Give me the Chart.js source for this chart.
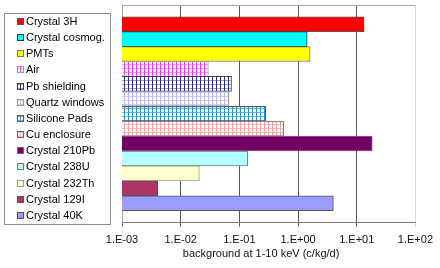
<!DOCTYPE html>
<html>
<head>
<meta charset="utf-8">
<script src="https://cdn.jsdelivr.net/npm/chart.js@4/dist/chart.umd.min.js"></script>
<style>
  html, body { margin: 0; padding: 0; background: #fff; }
  #chart { display: block; }
</style>
</head>
<body>
<canvas id="chart" width="440" height="268"></canvas>
<script>
// background sources, top to bottom
const sources = ['Crystal 3H', 'Crystal cosmog.', 'PMTs', 'Air', 'Pb shielding', 'Quartz windows', 'Silicone Pads',
  'Cu enclosure', 'Crystal 210Pb', 'Crystal 238U', 'Crystal 232Th', 'Crystal 129I', 'Crystal 40K'];
// background at 1-10 keV, c/kg/d
const rates = [13.4, 1.43, 1.61, 0.0296, 0.0735, 0.0661, 0.281, 0.567, 18.4, 0.139, 0.0208, 0.00408, 4.0];
const tickValues = [1e-3, 1e-2, 1e-1, 1, 10, 100];
const tickLabels = ['1.E-03', '1.E-02', '1.E-01', '1.E+00', '1.E+01', '1.E+02'];
const axisTitle = 'background at 1-10 keV (c/kg/d)';

const FONT = '"Liberation Sans", Arial, sans-serif';

// small grid hatch, like the excel fill patterns
function hatch(vLine, hLine, step) {
  const cv = document.createElement('canvas');
  cv.width = step; cv.height = step;
  const g = cv.getContext('2d');
  g.fillStyle = '#fff';
  g.fillRect(0, 0, step, step);
  g.fillStyle = hLine;
  g.fillRect(0, 0, step, 1);
  g.fillStyle = vLine;
  g.fillRect(0, 0, 1, step);
  return g.createPattern(cv, 'repeat');
}

const fills = [
  '#ff0000', '#00ffff', '#ffff00',
  hatch('#ff33ff', '#ff99ff', 4),
  hatch('#2a2a8c', '#9c9cc8', 4),
  hatch('#b8b8f4', '#cfcffa', 4),
  hatch('#1f8fe0', '#70b4ec', 4),
  hatch('#ff9c9c', '#ffb8b8', 4),
  '#730063', '#b3ffff', '#ffffcc', '#b03366', '#9c9cff'
];
const edges = ['#555', '#333', '#777', '#999', '#444', '#999', '#555', '#666', '#a05098', '#777', '#999', '#555', '#555'];

const frame = {
  id: 'frame',
  beforeDatasetsDraw(chart) {
    const { ctx, chartArea: a } = chart;
    ctx.save();
    ctx.strokeStyle = '#a6a6a6';
    ctx.lineWidth = 1;
    ctx.beginPath();
    ctx.moveTo(a.left + 0.5, a.bottom);
    ctx.lineTo(a.left + 0.5, a.top + 0.5);
    ctx.lineTo(a.right, a.top + 0.5);
    ctx.stroke();
    ctx.restore();
  }
};

// legend in a bordered box at the left
const boxLegend = {
  id: 'boxLegend',
  afterDraw(chart) {
    const c = chart.ctx;
    c.save();
    c.strokeStyle = '#8c8c8c';
    c.lineWidth = 1;
    c.strokeRect(4.5, 13.5, 106, 211);
    c.font = '11px ' + FONT;
    c.textBaseline = 'middle';
    sources.forEach((name, i) => {
      const y = Math.round(20.7 + i * 16.2);
      c.fillStyle = fills[i];
      c.fillRect(17, y - 3, 7, 7);
      c.strokeStyle = edges[i];
      c.strokeRect(17.5, y - 2.5, 6, 6);
      c.fillStyle = '#000';
      c.fillText(name, 26, y + 0.5);
    });
    c.restore();
  }
};

new Chart(document.getElementById('chart'), {
  type: 'bar',
  data: {
    datasets: [{
      data: rates.map((v, i) => ({ x: v, y: i })),
      backgroundColor: fills,
      borderColor: edges,
      borderWidth: 1,
      barPercentage: 1,
      categoryPercentage: 1
    }]
  },
  options: {
    indexAxis: 'y',
    responsive: false,
    animation: false,
    layout: { padding: { left: 122, right: 23, top: 5, bottom: 3 } },
    plugins: { legend: { display: false }, tooltip: { enabled: false } },
    scales: {
      x: {
        type: 'logarithmic',
        min: 1e-3,
        max: 1e2,
        afterBuildTicks: (s) => { s.ticks = tickValues.map((v) => ({ value: v })); },
        ticks: {
          callback: (v, i) => tickLabels[i],
          autoSkip: false,
          maxRotation: 0,
          padding: 7,
          color: '#111',
          font: { family: FONT, size: 11 }
        },
        grid: {
          color: (ctx) => (ctx.tick && ctx.tick.value === 100 ? '#d9d9d9' : '#5a5a5a'),
          tickLength: 4
        },
        border: { color: '#7a7a7a' },
        title: {
          display: true,
          // trailing spaces nudge the centred title a little to the left, as in the original
          text: axisTitle + '     ',
          color: '#111',
          font: { family: FONT, size: 11 },
          padding: { top: -6, bottom: 4 }
        }
      },
      y: {
        type: 'linear',
        reverse: true,
        offset: false,
        bounds: 'data',
        min: -1.29,
        max: 13.3,
        afterBuildTicks: (s) => { s.ticks = sources.map((n, i) => ({ value: i })); },
        display: false
      }
    }
  },
  plugins: [frame, boxLegend]
});
</script>
</body>
</html>
